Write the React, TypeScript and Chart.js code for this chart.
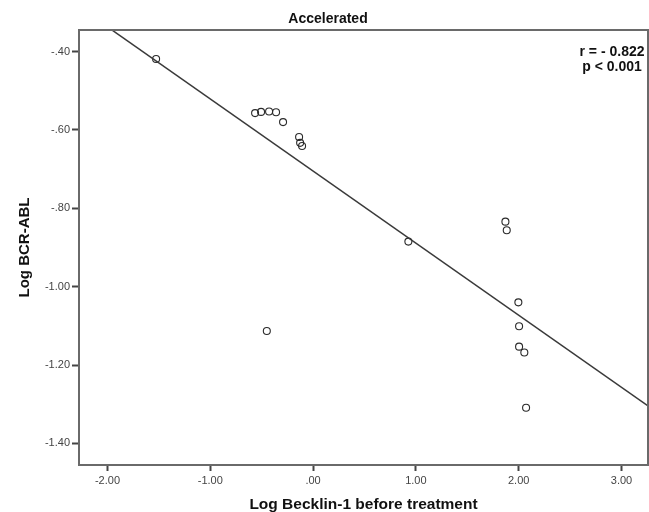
import React, { useEffect, useRef } from 'react';
import { Chart, registerables } from 'chart.js';

Chart.register(...registerables);

// ---- Text ----
const chartTitle = 'Accelerated';
const xAxisTitle = 'Log Becklin-1 before treatment';
const yAxisTitle = 'Log BCR-ABL';
const statLines = ['r = - 0.822', 'p < 0.001'];

// ---- Data ----
const logBecklin = [
  -1.527, -0.564, -0.506, -0.428, -0.36, -0.292, -0.136, -0.126, -0.107,
  -0.45, 0.927, 1.871, 1.884, 1.997, 2.004, 2.004, 2.055, 2.072,
];
const logBcrAbl = [
  -0.419, -0.557, -0.554, -0.553, -0.555, -0.58, -0.618, -0.633, -0.641,
  -1.113, -0.885, -0.834, -0.856, -1.04, -1.101, -1.153, -1.168, -1.309,
];

// ---- Axes ----
const xTickValues = [-2, -1, 0, 1, 2, 3];
const xTickLabels = ['-2.00', '-1.00', '.00', '1.00', '2.00', '3.00'];
const yTickValues = [-0.4, -0.6, -0.8, -1.0, -1.2, -1.4];
const yTickLabels = ['-.40', '-.60', '-.80', '-1.00', '-1.20', '-1.40'];
const xRange = [-2.277, 3.258];
const yRange = [-1.455, -0.345];

// ---- Fit line ----
const fitIntercept = -0.705;
const fitSlope = -0.184;

const FONT = '"Liberation Sans", Arial, sans-serif';

const textPlugin = {
  id: 'spssText',
  afterDraw(chart: any) {
    const { ctx, chartArea: a } = chart;
    ctx.save();
    ctx.strokeStyle = '#6a6a6a';
    ctx.lineWidth = 2;
    ctx.strokeRect(a.left, a.top, a.right - a.left, a.bottom - a.top);

    ctx.fillStyle = '#111';
    ctx.textAlign = 'center';
    ctx.textBaseline = 'middle';
    ctx.font = `bold 14px ${FONT}`;
    ctx.fillText(chartTitle, 328, 19);

    ctx.font = `bold 14px ${FONT}`;
    ctx.fillText(statLines[0], 612, 52);
    ctx.fillText(statLines[1], 612, 67);

    ctx.font = `bold 15.5px ${FONT}`;
    ctx.fillText(xAxisTitle, (a.left + a.right) / 2, 505);

    ctx.save();
    ctx.translate(25, (a.top + a.bottom) / 2);
    ctx.rotate(-Math.PI / 2);
    ctx.font = `bold 15px ${FONT}`;
    ctx.fillText(yAxisTitle, 0, 0);
    ctx.restore();
    ctx.restore();
  },
};

export default function App() {
  const ref = useRef<HTMLCanvasElement>(null);

  useEffect(() => {
    if (!ref.current) return;
    const points = logBecklin.map((x, i) => ({ x, y: logBcrAbl[i] }));
    const fit = xRange.map((x) => ({ x, y: fitIntercept + fitSlope * x }));

    const chart = new Chart(ref.current, {
      type: 'scatter',
      data: {
        datasets: [
          {
            type: 'line',
            data: fit,
            borderColor: '#3a3a3a',
            borderWidth: 1.5,
            pointRadius: 0,
            fill: false,
          } as any,
          {
            data: points,
            pointRadius: 3.5,
            pointBorderWidth: 1.1,
            borderColor: '#2a2a2a',
            backgroundColor: 'rgba(255,255,255,0)',
            pointStyle: 'circle',
          },
        ],
      },
      options: {
        animation: false,
        responsive: true,
        maintainAspectRatio: false,
        layout: { autoPadding: false, padding: { top: 30, right: 1, left: 0, bottom: 0 } },
        plugins: {
          legend: { display: false },
          tooltip: { enabled: false },
          title: { display: false },
        },
        scales: {
          x: {
            type: 'linear',
            min: xRange[0],
            max: xRange[1],
            afterFit: (s: any) => {
              s.height = 47;
              s.paddingLeft = 0;
              s.paddingRight = 0;
            },
            afterBuildTicks: (s: any) => {
              s.ticks = xTickValues.map((v) => ({ value: v }));
            },
            ticks: {
              callback: (_v: any, i: number) => xTickLabels[i],
              color: '#444',
              font: { family: FONT, size: 11 },
              padding: 3,
              maxRotation: 0,
              autoSkip: false,
            },
            grid: {
              drawOnChartArea: false,
              drawTicks: true,
              tickLength: 6,
              tickColor: '#444',
              tickWidth: 2,
            },
            border: { display: false },
          },
          y: {
            type: 'linear',
            min: yRange[0],
            max: yRange[1],
            afterFit: (s: any) => {
              s.width = 79;
              s.paddingTop = 0;
              s.paddingBottom = 0;
            },
            afterBuildTicks: (s: any) => {
              s.ticks = yTickValues.map((v) => ({ value: v }));
            },
            ticks: {
              callback: (_v: any, i: number) => yTickLabels[i],
              color: '#444',
              font: { family: FONT, size: 11 },
              padding: 2,
              autoSkip: false,
            },
            grid: {
              drawOnChartArea: false,
              drawTicks: true,
              tickLength: 7,
              tickColor: '#444',
              tickWidth: 2,
            },
            border: { display: false },
          },
        },
      },
      plugins: [textPlugin],
    });
    return () => chart.destroy();
  }, []);

  return (
    <div style={{ position: 'absolute', left: 0, top: 0, width: 649, height: 512, background: '#fff' }}>
      <canvas ref={ref} style={{ display: 'block' }} />
    </div>
  );
}
